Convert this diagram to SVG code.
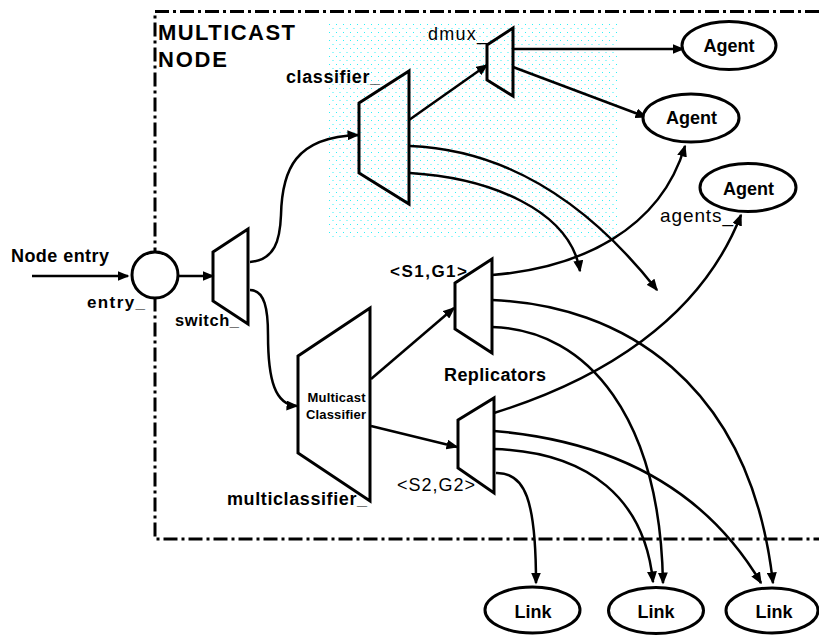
<svg xmlns="http://www.w3.org/2000/svg" width="819" height="635" viewBox="0 0 819 635">
  <style>
    text { font-family: "Liberation Sans", Arial, Helvetica, sans-serif; fill: #000; }
    .b { font-weight: bold; }
    .r { font-weight: normal; }
    .shape { fill: none; stroke: #000; stroke-width: 3; stroke-linejoin: miter; }
    .oval { fill: #fff; stroke: #000; stroke-width: 3; }
    .frame { fill: none; stroke: #000; stroke-width: 3; stroke-dasharray: 14 4 3 4; }
    .conn path, .conn line { fill: none; stroke: #000; stroke-width: 2.5; marker-end: url(#arrow); }
  </style>
  <defs>
    <marker id="arrow" viewBox="0 0 12 10" refX="10.5" refY="5" markerWidth="12" markerHeight="10" markerUnits="userSpaceOnUse" orient="auto">
      <path d="M0,0 L12,5 L0,10 z" fill="#000"/>
    </marker>
    <pattern id="dots" width="7" height="8" patternUnits="userSpaceOnUse">
      <rect x="0" y="0" width="1" height="1" fill="#30f0f8"/>
      <rect x="3.5" y="4" width="1" height="1" fill="#30f0f8"/>
    </pattern>
  </defs>

  <rect width="819" height="635" fill="#fff"/>

  <!-- shaded area behind the unicast classifier and demux -->
  <rect x="327" y="23" width="290" height="215" fill="url(#dots)"/>

  <!-- node boundary -->
  <g id="frame">
    <path class="frame" d="M819,11.5 H155 V539 H819"/>
    <text class="b" x="158" y="40" font-size="22" textLength="137">MULTICAST</text>
    <text class="b" x="158" y="67" font-size="22" textLength="69">NODE</text>
  </g>

  <!-- connectors -->
  <g id="connectors" class="conn">
    <line x1="32" y1="276" x2="128" y2="276"/>
    <line x1="178" y1="276" x2="213" y2="276"/>
    <path d="M250,262 C275,260 280,240 281,215 C282,170 295,137 358,135"/>
    <path d="M250,290 C265,290 268,310 268,335 C268,380 275,405 297,406"/>
    <line x1="409" y1="120" x2="487" y2="65"/>
    <line x1="513" y1="49" x2="683" y2="49"/>
    <line x1="513" y1="67" x2="646" y2="117"/>
    <path d="M410,146 C510,150 590,205 657,290"/>
    <path d="M410,173 C490,178 570,210 580,271"/>
    <line x1="371" y1="379" x2="454" y2="308"/>
    <line x1="371" y1="426" x2="457" y2="447"/>
    <path d="M492,275 C580,268 660,230 685,146"/>
    <path d="M492,300 C620,305 750,380 773,583"/>
    <path d="M492,327 C590,330 660,420 663,583"/>
    <path d="M494,413 C600,380 700,320 741,215"/>
    <path d="M494,431 C600,440 700,480 761,583"/>
    <path d="M494,449 C590,452 645,500 653,582"/>
    <path d="M496,473 C525,472 536,500 536,583"/>
  </g>

  <g id="node-entry-label">
    <text class="b" x="11" y="262" font-size="18" textLength="98">Node entry</text>
  </g>

  <g id="entry">
    <circle class="oval" cx="155" cy="275" r="23"/>
    <text class="b" x="87" y="308" font-size="17" textLength="58">entry_</text>
  </g>

  <g id="switch">
    <polygon class="shape" points="213,252 248,229 248,324 213,301"/>
    <text class="b" x="175" y="326" font-size="16.5" textLength="64">switch_</text>
  </g>

  <g id="classifier">
    <polygon class="shape" points="359,103 409,71 409,204 359,173"/>
    <text class="b" x="286" y="83" font-size="18" textLength="94">classifier_</text>
  </g>

  <g id="dmux">
    <polygon class="shape" points="487,45 513,28 513,96 487,80"/>
    <text class="r" x="428" y="40" font-size="18" textLength="59">dmux_</text>
  </g>

  <g id="agent1">
    <ellipse class="oval" cx="729" cy="45.5" rx="47" ry="24"/>
    <text class="b" x="729" y="52" font-size="18" text-anchor="middle">Agent</text>
  </g>
  <g id="agent2">
    <ellipse class="oval" cx="691" cy="118" rx="48" ry="24"/>
    <text class="b" x="691.5" y="124" font-size="18" text-anchor="middle">Agent</text>
  </g>
  <g id="agent3">
    <ellipse class="oval" cx="748" cy="187.5" rx="48" ry="24"/>
    <text class="b" x="748.5" y="195" font-size="18" text-anchor="middle">Agent</text>
    <text class="r" x="660" y="221.5" font-size="19" textLength="73">agents_</text>
  </g>

  <g id="multiclassifier">
    <polygon class="shape" points="298,356 370,308 370,501 298,453"/>
    <text class="b" x="336.5" y="401.5" font-size="13" text-anchor="middle" textLength="58">Multicast</text>
    <text class="b" x="336" y="418.5" font-size="13" text-anchor="middle" textLength="60">Classifier</text>
    <text class="b" x="227" y="505" font-size="18" textLength="140">multiclassifier_</text>
  </g>

  <g id="replicator-s1g1">
    <polygon class="shape" points="455,283 492,259 492,353 455,329"/>
    <text class="b" x="390" y="277" font-size="17" textLength="77">&lt;S1,G1&gt;</text>
  </g>

  <g id="replicators-label">
    <text class="b" x="444" y="381" font-size="18" textLength="102">Replicators</text>
  </g>

  <g id="replicator-s2g2">
    <polygon class="shape" points="458,420 494,398 494,493 458,468"/>
    <text class="r" x="397" y="490.5" font-size="18" textLength="78">&lt;S2,G2&gt;</text>
  </g>

  <g id="link1">
    <ellipse class="oval" cx="532.5" cy="610" rx="47.5" ry="23"/>
    <text class="b" x="533" y="618" font-size="18" text-anchor="middle">Link</text>
  </g>
  <g id="link2">
    <ellipse class="oval" cx="656" cy="610.5" rx="47.5" ry="23"/>
    <text class="b" x="656" y="618" font-size="18" text-anchor="middle">Link</text>
  </g>
  <g id="link3">
    <ellipse class="oval" cx="772" cy="610.5" rx="46" ry="22.5"/>
    <text class="b" x="774" y="618" font-size="18" text-anchor="middle">Link</text>
  </g>
</svg>
